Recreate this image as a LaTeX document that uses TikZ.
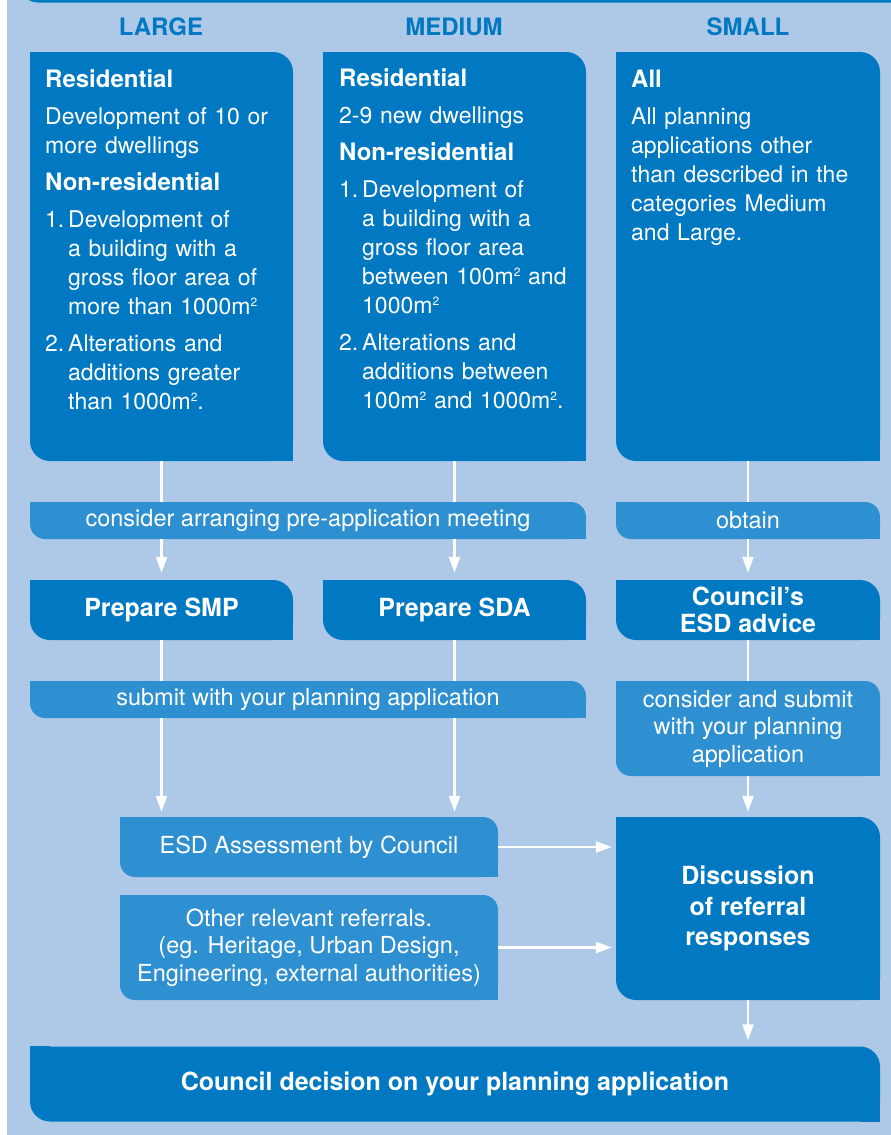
\documentclass[tikz,border=0pt]{standalone}
\usepackage{fontspec}
\setmainfont{TeX Gyre Heros}
\usetikzlibrary{arrows.meta}

\definecolor{pagebg}{HTML}{AEC8E8}
\definecolor{boxblue}{HTML}{0079C2}
\definecolor{barblue}{HTML}{2E90D0}

\newcommand\sq{\raisebox{8pt}{\fontsize{12}{12}\selectfont 2}}
\newcommand\bodyset{\setlength\parskip{8pt}}
\newcommand\subhead[1]{{\bfseries\fontsize{24}{29}\selectfont #1}}
\newcommand\numitem[1]{\par\noindent\hangindent=23pt\hangafter=1\makebox[23pt][l]{#1}}

\tikzset{
  box/.style={fill=boxblue, rounded corners=20pt, inner sep=0pt, text=white, align=center,
    font=\bfseries\fontsize{25}{27}\selectfont},
  bar/.style={fill=barblue, rounded corners=15pt, inner sep=0pt, text=white, align=center,
    font=\fontsize{23.5}{27.5}\selectfont},
  head/.style={text=boxblue, font=\bfseries\fontsize{24}{28}\selectfont},
  body/.style={anchor=base west, inner sep=0pt, text=white, text width=240pt, align=left,
    font=\fontsize{23}{29}\selectfont},
  link/.style={draw=white, line width=2.3pt},
  flow/.style={link, -{Triangle[width=11pt,length=16pt]}},
}

\begin{document}
\begin{tikzpicture}[x=1pt,y=-1pt]
    \useasboundingbox (0,0) rectangle (891,1135);
    \fill[pagebg] (7,0) rectangle (891,1135);
    \fill[boxblue, rounded corners=18pt] (20,-40) rectangle (930,2.5);

    % column heads
    \node[head] (hlarge) at (161,27) {LARGE};
    \node[head] (hmedium) at (454,27) {MEDIUM};
    \node[head] (hsmall) at (748,27) {SMALL};

    % categories
    \node[box, minimum width=263pt, minimum height=409pt] (large) at (161.5,256.5) {};
    \node[box, minimum width=263pt, minimum height=409pt] (medium) at (454.5,256.5) {};
    \node[box, minimum width=264pt, minimum height=409pt] (small) at (748,256.5) {};

    % steps
    \node[bar, minimum width=556pt, minimum height=37pt] (prebar) at (308,520.5) {consider arranging pre-application meeting};
    \node[bar, minimum width=264pt, minimum height=37pt] (obtainbar) at (748,520.5) {obtain};

    \node[box, minimum width=263pt, minimum height=60pt] (smp) at (161.5,610) {Prepare SMP};
    \node[box, minimum width=263pt, minimum height=60pt] (sda) at (454.5,610) {Prepare SDA};
    \node[box, minimum width=264pt, minimum height=60pt] (advice) at (748,610) {Council's\\ESD advice};

    \node[bar, minimum width=556pt, minimum height=37pt] (submitbar) at (308,699.5) {submit with your planning application};
    \node[bar, minimum width=264pt, minimum height=95pt] (considerbar) at (748,728.5) {consider and submit\\with your planning\\application};

    \node[bar, minimum width=378pt, minimum height=60pt] (esd) at (309,847) {ESD Assessment by Council};
    \node[bar, minimum width=378pt, minimum height=105pt] (others) at (309,947.5) {Other relevant referrals.\\(eg. Heritage, Urban Design,\\Engineering, external authorities)};
    \node[box, minimum width=264pt, minimum height=183pt, font=\bfseries\fontsize{25}{30.5}\selectfont] (discuss) at (748,908.5) {Discussion\\of referral\\responses};

    \node[box, minimum width=850pt, minimum height=75pt] (decision) at (455,1084) {Council decision on your planning application};

    % square off the other two corners
    \foreach \n in {large,medium,small,smp,sda,advice,discuss,decision} {
        \fill[boxblue] (\n.north west) rectangle +(20pt,-20pt);
        \fill[boxblue] (\n.south east) rectangle +(-20pt,20pt);
    }
    \foreach \n in {prebar,obtainbar,submitbar,considerbar,esd,others} {
        \fill[barblue] (\n.north west) rectangle +(15pt,-15pt);
        \fill[barblue] (\n.south east) rectangle +(-15pt,15pt);
    }

    % category texts
    \node[body] (largetxt) at (45,87) {\bodyset
      \subhead{Residential}\par
      Development of 10 or\newline more dwellings\par
      \subhead{Non-residential}\par
      \numitem{1.}Development of\newline a building with a\newline gross floor area of\newline more than 1000m\sq\par
      \numitem{2.}Alterations and\newline additions greater\newline than 1000m\sq.\par};
    \node[body] (mediumtxt) at (339,86) {\bodyset
      \subhead{Residential}\par
      2-9 new dwellings\par
      \subhead{Non-residential}\par
      \numitem{1.}Development of\newline a building with a\newline gross floor area\newline between 100m\sq{} and\newline 1000m\sq\par
      \numitem{2.}Alterations and\newline additions between\newline 100m\sq{} and 1000m\sq.\par};
    \node[body] (smalltxt) at (631,87) {\bodyset
      \subhead{All}\par
      All planning\newline applications other\newline than described in the\newline categories Medium\newline and Large.\par};

    % connectors
    \draw[link] (large.south) -- (large.south |- prebar.north);
    \draw[flow, shorten >=7pt] (large.south |- prebar.south) -- (smp);
    \draw[link] (medium.south) -- (medium.south |- prebar.north);
    \draw[flow, shorten >=7pt] (medium.south |- prebar.south) -- (sda);
    \draw[link] (small.south) -- (small.south |- obtainbar.north);
    \draw[flow, shorten >=7pt] (small.south |- obtainbar.south) -- (advice);

    \draw[link] (smp.south) -- (smp.south |- submitbar.north);
    \draw[flow, shorten >=5pt] (smp.south |- submitbar.south) -- (smp.south |- esd.north);
    \draw[link] (sda.south) -- (sda.south |- submitbar.north);
    \draw[flow, shorten >=5pt] (sda.south |- submitbar.south) -- (sda.south |- esd.north);
    \draw[link] (advice.south) -- (advice.south |- considerbar.north);
    \draw[flow, shorten >=5pt] (considerbar.south) -- (discuss);

    \draw[flow, shorten >=4pt] (esd.east) -- (discuss.west |- esd.east);
    \draw[flow, shorten >=4pt] (others.east) -- (discuss.west |- others.east);
    \draw[flow, shorten >=6pt] (discuss.south) -- (discuss.south |- decision.north);
\end{tikzpicture}
\end{document}
